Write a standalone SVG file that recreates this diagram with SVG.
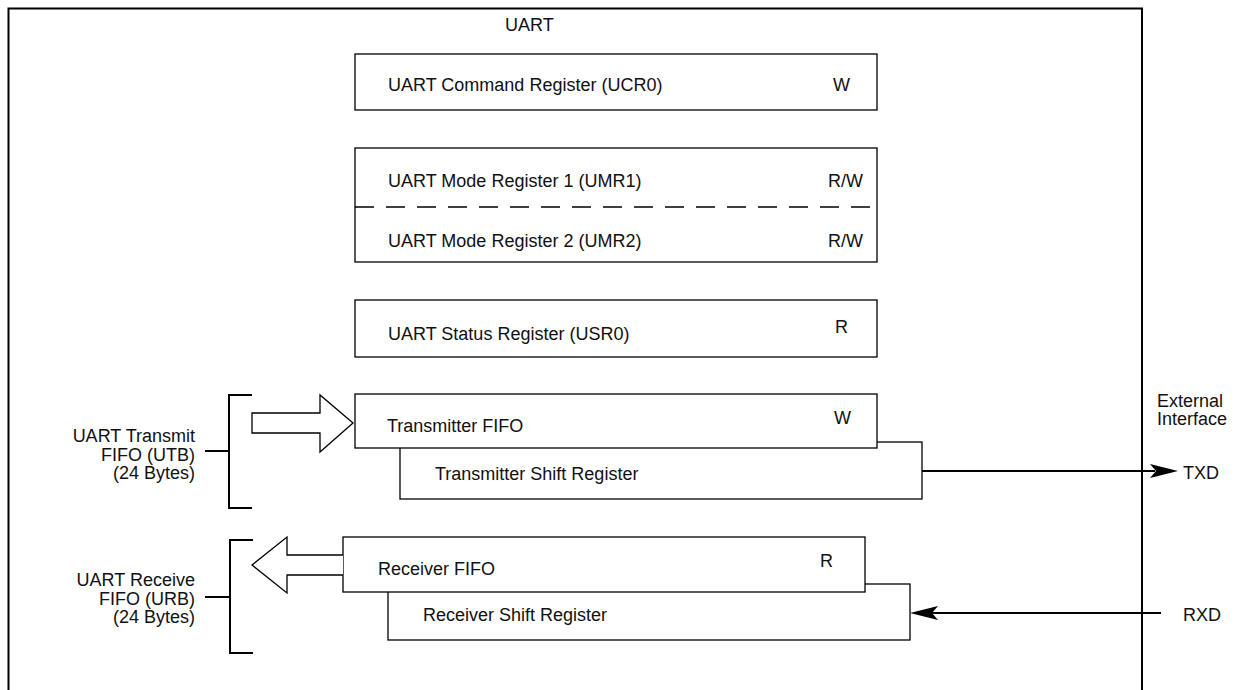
<svg xmlns="http://www.w3.org/2000/svg" width="1252" height="690" viewBox="0 0 1252 690">
<style>
text{font-family:"Liberation Sans",Arial,sans-serif;font-size:18px;fill:#111}
.box{fill:#fff;stroke:#000;stroke-width:1.3}
.thin{fill:none;stroke:#000;stroke-width:1.3}
.br{fill:none;stroke:#000;stroke-width:2}
.ln{fill:none;stroke:#000;stroke-width:2}
.end{text-anchor:end}
</style>
<rect width="1252" height="690" fill="#fff"/>
<g id="frame">
<path class="br" d="M8.5,690 V8.5 H1142 V690" stroke-width="1.6"/>
<text x="505" y="31">UART</text>
</g>
<g id="ucr0">
<rect class="box" x="355" y="54" width="522" height="56"/>
<text x="388" y="91">UART Command Register (UCR0)</text>
<text x="833" y="91">W</text>
</g>
<g id="umr">
<rect class="box" x="355" y="148" width="522" height="114"/>
<line class="thin" x1="355" y1="207" x2="877" y2="207" stroke-dasharray="19,12"/>
<text x="388" y="187">UART Mode Register 1 (UMR1)</text>
<text x="828" y="187">R/W</text>
<text x="388" y="247">UART Mode Register 2 (UMR2)</text>
<text x="828" y="247">R/W</text>
</g>
<g id="usr0">
<rect class="box" x="355" y="300" width="522" height="57"/>
<text x="388" y="340">UART Status Register (USR0)</text>
<text x="835" y="333">R</text>
</g>
<g id="tx-shift">
<rect class="box" x="400" y="442" width="522" height="57"/>
<text x="435" y="480">Transmitter Shift Register</text>
</g>
<g id="tx-fifo">
<rect class="box" x="355" y="394" width="522" height="54"/>
<text x="387" y="432">Transmitter FIFO</text>
<text x="834" y="424">W</text>
</g>
<g id="rx-shift">
<rect class="box" x="388" y="584" width="522" height="56"/>
<text x="423" y="621">Receiver Shift Register</text>
</g>
<g id="rx-fifo">
<rect class="box" x="343" y="537" width="522" height="55"/>
<text x="378" y="575">Receiver FIFO</text>
<text x="820" y="567">R</text>
</g>
<g id="utb">
<path class="br" d="M252,395 H229 V508 H252 M205,451 H229"/>
<text class="end" x="195" y="442">UART Transmit</text>
<text class="end" x="195" y="460.5">FIFO (UTB)</text>
<text class="end" x="195" y="479">(24 Bytes)</text>
</g>
<g id="urb">
<path class="br" d="M253,540 H230 V653 H253 M205,597 H230"/>
<text class="end" x="195" y="586">UART Receive</text>
<text class="end" x="195" y="604.5">FIFO (URB)</text>
<text class="end" x="195" y="623">(24 Bytes)</text>
</g>
<g id="external">
<text x="1157" y="407">External</text>
<text x="1157" y="425">Interface</text>
<text x="1183" y="479">TXD</text>
<text x="1183" y="621">RXD</text>
</g>
<g id="connectors">
<polygon points="252,413 320,413 320,395 353,423 320,452 320,433 252,433" fill="#fff" stroke="#000" stroke-width="1.3"/>
<path d="M343,555 H287 V537 L252,565 L287,593 V575 H343" fill="#fff" stroke="#000" stroke-width="1.3"/>
<line class="ln" x1="922" y1="471" x2="1155" y2="471"/>
<polygon points="1178,471 1150,464 1156,471 1150,478" fill="#000"/>
<line class="ln" x1="1161" y1="613" x2="932" y2="613"/>
<polygon points="910,613 938,606 932,613 938,620" fill="#000"/>
</g>
</svg>
